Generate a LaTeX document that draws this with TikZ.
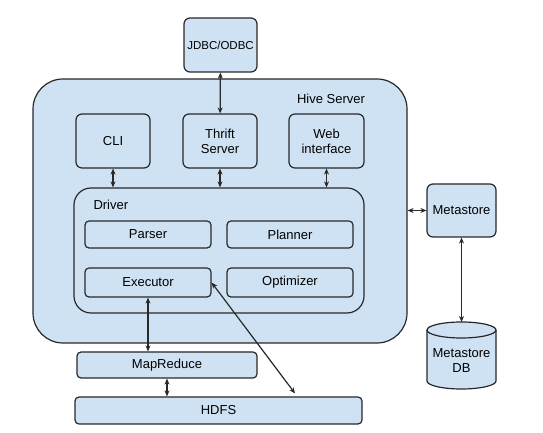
\documentclass[tikz,border=0pt]{standalone}
\usepackage{fontspec}
\setmainfont{Liberation Sans}
\usetikzlibrary{arrows.meta,calc,positioning}
\definecolor{hiveBlue}{RGB}{207,226,243}
\definecolor{hiveLine}{RGB}{40,40,40}

\tikzset{
  box/.style={draw=hiveLine,fill=hiveBlue,line width=1.2pt,rounded corners=6pt,
    inner sep=0pt,align=center,font=\fontsize{13}{15}\selectfont},
  part/.style={box,rounded corners=4pt,minimum width=126pt},
  link/.style={hiveLine,line width=1.2pt,{Stealth[length=6pt,width=5pt]}-{Stealth[length=6pt,width=5pt]}}
}

\begin{document}
\begin{tikzpicture}[x=1pt,y=1pt]
\useasboundingbox (0,0) rectangle (543,433);
\fill[white] (0,0) rectangle (543,433);

% Hive Server (big box)
\node[box,rounded corners=30pt,minimum width=374pt,minimum height=264pt] (hive) at (220,222) {};
\node[font=\fontsize{13}{15}\selectfont] (hivelabel) at (331,334) {Hive Server};

% Client interfaces
\node[box,minimum width=73pt,minimum height=54pt,font=\fontsize{11.5}{13}\selectfont] (jdbc) at (220.5,388) {JDBC/ODBC};
\node[box,minimum width=74pt,minimum height=54pt] (cli) at (113,292) {CLI};
\node[box,minimum width=74pt,minimum height=54pt] (thrift) at (220,292) {Thrift\\Server};
\node[box,minimum width=75pt,minimum height=54pt] (web) at (326.5,292) {Web\\interface};

% Driver and its parts
\node[box,rounded corners=17pt,minimum width=290pt,minimum height=125pt] (driver) at (219,182.5) {};
\node[anchor=west,font=\fontsize{13}{15}\selectfont] (driverlabel) at (90,228) {Driver};
\node[part,minimum height=27pt] (parser) at (148,198.5) {Parser};
\node[part,minimum height=27pt] (planner) at (290,198.5) {Planner};
\node[part,minimum height=29pt] (executor) at (148,150.5) {Executor};
\node[part,minimum height=29pt] (optimizer) at (290,150.5) {Optimizer};

% Hadoop side
\node[box,rounded corners=4pt,minimum width=180pt,minimum height=26pt] (mapred) at (167,68) {MapReduce};
\node[box,rounded corners=4pt,minimum width=287pt,minimum height=27pt] (hdfs) at (218.5,22.5) {HDFS};

% Metastore
\node[box,minimum width=69pt,minimum height=53pt] (metastore) at (461.5,222.5) {Metastore};
\filldraw[draw=hiveLine,fill=hiveBlue,line width=1.2pt] (427,103) -- (427,52)
  arc (180:360:34.5 and 8) -- (496,103) arc (0:180:34.5 and 8) -- cycle;
\draw[hiveLine,line width=1.2pt] (427,103) arc (180:360:34.5 and 8);
\node[font=\fontsize{13}{15}\selectfont,align=center] (metadb) at (461.5,72) {Metastore\\DB};
\coordinate (dbtop) at (461.5,111);
\coordinate (hdfsin) at ($(hdfs.north)+(76.5,3)$);

% Connections
\draw[link] (jdbc) -- (thrift);
\foreach \n in {cli,thrift,web}
  \draw[link] (\n.south) -- (\n.south |- driver.north);
\draw[link] (hive.east |- metastore.west) -- (metastore.west);
\draw[link] (metastore) -- (dbtop);
\draw[link] (executor.south) -- (executor.south |- mapred.north);
\draw[link] (executor.east) -- (hdfsin);
\draw[link] (mapred.south) -- (mapred.south |- hdfs.north);

\end{tikzpicture}
\end{document}
